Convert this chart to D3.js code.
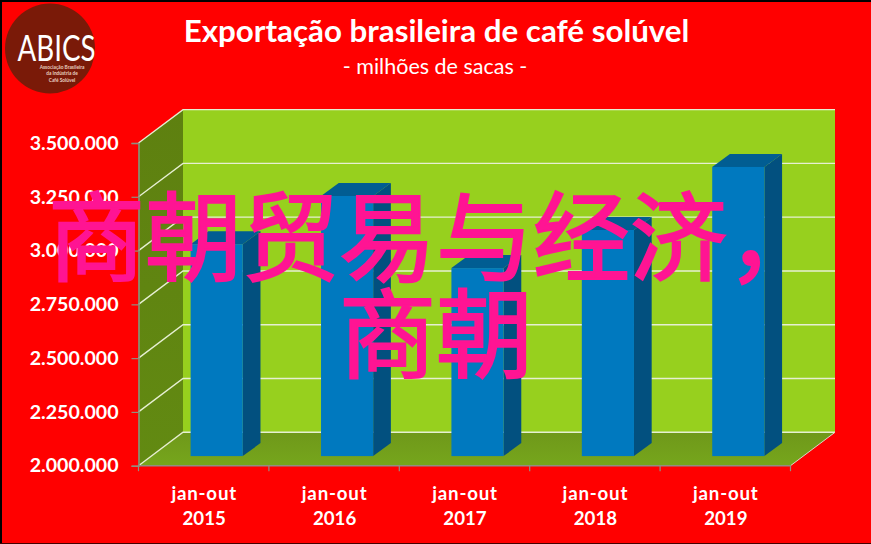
<!DOCTYPE html>
<html><head><meta charset="utf-8">
<script src="https://cdn.jsdelivr.net/npm/d3@7/dist/d3.min.js"></script>
<style>html,body{margin:0;padding:0;background:#f00;overflow:hidden}svg{display:block}</style>
</head><body><svg id="c" width="871" height="544"></svg>
<script>
const titleText = "Exportação brasileira de café solúvel";
const subtitleText = "- milhões de sacas -";
const periods = ["jan-out","jan-out","jan-out","jan-out","jan-out"];
const years = ["2015","2016","2017","2018","2019"];
const values = [2985000,3209000,2874000,3051000,3344000];
const yTicks = [2000000,2250000,2500000,2750000,3000000,3250000,3500000];
const overlayLines = ["商朝贸易与经济，","商朝"];
const logoName = "ABICS";
const logoLines = ["Associação Brasileira","da Indústria de","Café Solúvel"];

const W=871,H=544;
const pL=138.5,pR=790.5,pT=143,pB=465.7,dx=44.5,dy=33.4;
const svg=d3.select("#c");
const latin="Lato, 'Open Sans', sans-serif";
const y=d3.scaleLinear().domain([2000000,3500000]).range([pB,pT]);
const x=d3.scaleBand().domain(years).range([pL,pR]).paddingInner(0.6).paddingOuter(0.3);
const fmt=d3.formatLocale({decimal:",",thousands:".",grouping:[3],currency:["",""]}).format(",d");

const defs=svg.append("defs");
function grad(id,a,b){const g=defs.append("linearGradient").attr("id",id).attr("x1",0).attr("y1",0).attr("x2",0).attr("y2",1);
 g.append("stop").attr("offset",0).attr("stop-color",a);g.append("stop").attr("offset",1).attr("stop-color",b);}
grad("wallG","#5e8010","#628a12");grad("floorG","#6f981a","#76a61c");

svg.append("rect").attr("width",W).attr("height",H).attr("fill","#ff0000");
svg.append("rect").attr("width",W).attr("height",2).attr("fill","#000");
svg.append("rect").attr("width",2).attr("height",H).attr("fill","#000");
svg.append("rect").attr("y",H-1).attr("width",W).attr("height",1).attr("fill","#400");

const poly=pts=>pts.map(p=>p.join(",")).join(" ");
svg.append("polygon").attr("points",poly([[pL+dx,pT-dy],[pR+dx,pT-dy],[pR+dx,pB-dy],[pL+dx,pB-dy]])).attr("fill","#97d01e");
svg.append("polygon").attr("points",poly([[pL,pT],[pL+dx,pT-dy],[pL+dx,pB-dy],[pL,pB]])).attr("fill","url(#wallG)");
svg.append("polygon").attr("points",poly([[pL,pB],[pR,pB],[pR+dx,pB-dy],[pL+dx,pB-dy]])).attr("fill","url(#floorG)");

const grid=svg.append("g").attr("fill","none");
yTicks.forEach(t=>{
 const p=y(t);
 grid.append("polyline").attr("points",poly([[pL,p],[pL+dx,p-dy],[pR+dx,p-dy]]))
  .attr("stroke","#e6efd2").attr("stroke-width",1.4);
});
svg.append("line").attr("x1",pR).attr("y1",pB).attr("x2",pR+dx).attr("y2",pB-dy).attr("stroke","#d8d8c8").attr("stroke-width",1);

// y axis
const ya=svg.append("g").attr("transform",`translate(${pL},0)`).call(d3.axisLeft(y).tickValues(yTicks).tickFormat(fmt).tickSize(7).tickPadding(13));
ya.select(".domain").attr("stroke","#909080").attr("stroke-width",1.5);
ya.selectAll(".tick line").attr("stroke","#909080").attr("stroke-width",1.2);
ya.selectAll("text").attr("fill","#fff").attr("font-family",latin).attr("font-weight",700).attr("font-size",19.6);

// x axis: category labels at band centres, ticks on band edges
const centre=d3.scalePoint().domain(years).range([pL+x.step()/2,pR-x.step()/2]);
const xa=svg.append("g").attr("transform",`translate(0,${pB})`).call(d3.axisBottom(centre).tickSize(0).tickPadding(0));
xa.select(".domain").remove();
xa.selectAll(".tick text").each(function(d,i){
 const t=d3.select(this).text(null).attr("fill","#fff").attr("font-family",latin).attr("font-weight",700).attr("font-size",18.7).attr("text-anchor","middle").attr("y",0).attr("dy",0);
 t.append("tspan").attr("x",0).attr("y",34.3).attr("letter-spacing",0.8).text(periods[i]);
 t.append("tspan").attr("x",0).attr("y",59.6).text(years[i]);
});
const edges=svg.append("g").attr("stroke","#909080");
edges.append("line").attr("x1",pL).attr("x2",pR).attr("y1",pB).attr("y2",pB).attr("stroke-width",1.5);
d3.range(years.length+1).forEach(i=>{const e=pL+i*x.step();
 edges.append("line").attr("x1",e).attr("x2",e).attr("y1",pB).attr("y2",pB+5.5).attr("stroke-width",1.2);});

// bars
const fx=13,fy=9.6,bx=17.7,by=13;
const bars=svg.append("g").selectAll("g").data(values).join("g");
bars.each(function(v,i){
 const g=d3.select(this),x0=x(years[i])+fx,x1=x0+x.bandwidth(),ty=y(v)-fy,by0=y(2000000)-fy;
 g.append("polygon").attr("points",poly([[x1,ty],[x1+bx,ty-by],[x1+bx,by0-by],[x1,by0]])).attr("fill","#02507f");
 g.append("polygon").attr("points",poly([[x0,ty],[x0+bx,ty-by],[x1+bx,ty-by],[x1,ty]])).attr("fill","#015d92");
 g.append("rect").attr("x",x0).attr("y",ty).attr("width",x1-x0).attr("height",by0-ty).attr("fill","#0079bf");
});

// titles
svg.append("text").attr("x",436.5).attr("y",42).attr("text-anchor","middle").attr("fill","#fff").attr("font-family",latin).attr("font-weight",700).attr("font-size",31.3).text(titleText);
svg.append("text").attr("x",435).attr("y",74).attr("text-anchor","middle").attr("fill","#fff").attr("font-family",latin).attr("font-size",21.5).text(subtitleText);

// logo
svg.append("circle").attr("cx",50).attr("cy",48.5).attr("r",45).attr("fill","#7a1a08");
svg.append("text").attr("x",17.5).attr("y",61).attr("fill","#fff").attr("font-family",latin).attr("font-weight",400).attr("font-size",36).attr("textLength",78).attr("lengthAdjust","spacingAndGlyphs").text(logoName);
logoLines.forEach((l,i)=>svg.append("text").attr("x",62).attr("y",68.5+i*6.5).attr("text-anchor","middle").attr("fill","#e8cfc0").attr("font-family",latin).attr("font-weight",700).attr("font-size",4.8).text(l));

// overlay
overlayLines.forEach((l,i)=>svg.append("text").attr("x",436).attr("y",i?369.5:272.5).attr("text-anchor","middle").attr("fill","#ff1493").attr("stroke","#ff1493").attr("stroke-width",2.2).attr("font-family","'Noto Sans CJK SC'").attr("font-weight",400).attr("font-size",97).text(l));
</script></body></html>
